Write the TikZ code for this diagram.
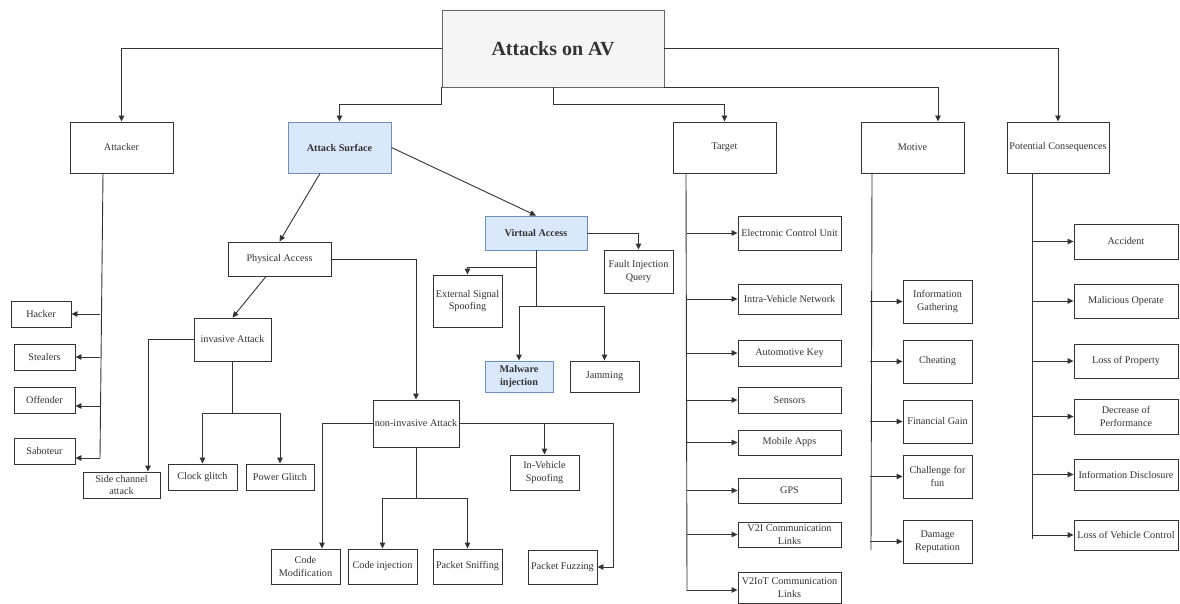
\documentclass[tikz,border=0pt]{standalone}
\usepackage{fontspec}
\setmainfont{Liberation Serif}
\usetikzlibrary{arrows.meta,calc}
\definecolor{ln}{HTML}{333333}
\definecolor{bluefill}{HTML}{DAE8FC}
\definecolor{blueline}{HTML}{6C8EBF}
\definecolor{titlefill}{HTML}{F5F5F5}
\definecolor{titleline}{HTML}{666666}
\definecolor{txt}{HTML}{333333}
\begin{document}
\begin{tikzpicture}[x=1pt,y=-1pt,
  sz/.style 2 args={minimum width=#1pt,minimum height=#2pt},
  bx/.style={draw=ln, line width=0.9pt, fill=white, align=center, inner xsep=0.5pt, inner ysep=0pt, text=txt, font=\fontsize{10.2}{12.5}\selectfont},
  hl/.style={bx, fill=bluefill, draw=blueline, font=\fontsize{10.2}{12.5}\selectfont\bfseries},
  wire/.style={draw=ln, line width=0.9pt},
  arr/.style={wire, -{Triangle[length=6pt,width=5.5pt]}},
]
\useasboundingbox (0,0) rectangle (1180,604);

% top level
\node[draw=titleline, fill=titlefill, line width=0.9pt, sz={222}{77}, text=txt, font=\fontsize{20}{24}\selectfont\bfseries] (title) at (553,48.5) {Attacks on AV};
\node[bx, sz={103}{51}] (attacker) at (121.5,147.5) {Attacker};
\node[hl, sz={103}{51}] (surface) at (339.5,147.5) {Attack Surface};
\node[bx, sz={103}{51}] (target) at (724.5,147.5) {Target};
\node[bx, sz={103}{51}] (motive) at (912.5,147.5) {Motive};
\node[bx, sz={102}{51}] (conseq) at (1058,147.5) {Potential Consequences};

% attacker children
\node[bx, sz={60}{26}] (hacker) at (41,314) {Hacker};
\node[bx, sz={61}{26}] (stealers) at (44.5,357) {Stealers};
\node[bx, sz={61}{26}] (offender) at (44.5,400) {Offender};
\node[bx, sz={61}{26}] (saboteur) at (44.5,451) {Saboteur};

% attack surface subtree
\node[bx, sz={103}{34}] (physical) at (279.5,259) {Physical Access};
\node[bx, sz={77}{43}] (invasive) at (232.5,339.5) {invasive Attack};
\node[bx, sz={77}{26}] (side) at (121.5,485) {Side channel\\attack};
\node[bx, sz={69}{26}] (clock) at (202.5,477) {Clock glitch};
\node[bx, sz={68}{26}] (power) at (280,477) {Power Glitch};
\node[bx, sz={86}{47}, inner xsep=0pt] (noninv) at (416,423.5) {non-invasive Attack};
\node[bx, sz={69}{35}] (codemod) at (305.5,566.5) {Code\\Modification};
\node[bx, sz={69}{35}] (codeinj) at (382.5,566.5) {Code injection};
\node[bx, sz={69}{35}] (sniff) at (467.5,566.5) {Packet Sniffing};
\node[bx, sz={69}{35}] (invspoof) at (544.5,472.5) {In-Vehicle\\Spoofing};
\node[bx, sz={69}{34}] (fuzz) at (562.5,567) {Packet Fuzzing};

\node[hl, sz={102}{34}] (virtual) at (536,233) {Virtual Access};
\node[bx, sz={69}{43}] (fault) at (638.5,271.5) {Fault Injection\\Query};
\node[bx, sz={69}{52}] (ext) at (467.5,301) {External Signal\\Spoofing};
\node[hl, sz={68}{31}] (malware) at (519,376.5) {Malware\\injection};
\node[bx, sz={69}{31}] (jamming) at (604.5,376.5) {Jamming};

% target children
\node[bx, sz={103}{34}] (ecu) at (789.5,233) {Electronic Control Unit};
\node[bx, sz={103}{30}] (ivn) at (789.5,299) {Intra-Vehicle Network};
\node[bx, sz={103}{26}] (key) at (789.5,353) {Automotive Key};
\node[bx, sz={103}{26}] (sensors) at (789.5,400) {Sensors};
\node[bx, sz={103}{25}] (apps) at (789.5,442.5) {Mobile Apps};
\node[bx, sz={103}{25}] (gps) at (789.5,490.5) {GPS};
\node[bx, sz={103}{25}] (v2i) at (789.5,534.5) {V2I Communication\\Links};
\node[bx, sz={103}{31}] (v2iot) at (789.5,587.5) {V2IoT Communication\\Links};

% motive children
\node[bx, sz={69}{43}] (info) at (937.5,301.5) {Information\\Gathering};
\node[bx, sz={69}{43}] (cheat) at (937.5,361.5) {Cheating};
\node[bx, sz={69}{43}] (fin) at (937.5,421.5) {Financial Gain};
\node[bx, sz={69}{43}] (chal) at (937.5,476.5) {Challenge for\\fun};
\node[bx, sz={69}{43}] (dmg) at (937.5,541.5) {Damage\\Reputation};

% consequence children
\node[bx, sz={104}{35}] (acc) at (1126,241.5) {Accident};
\node[bx, sz={104}{34}] (malop) at (1126,301) {Malicious Operate};
\node[bx, sz={104}{34}] (lop) at (1126,361) {Loss of Property};
\node[bx, sz={104}{35}] (dec) at (1126,416.5) {Decrease of\\Performance};
\node[bx, sz={104}{31}] (disc) at (1126,474.5) {Information Disclosure};
\node[bx, sz={104}{30}] (lvc) at (1126,535) {Loss of Vehicle Control};

% spine end points
\coordinate (aend) at (100,458);
\coordinate (tend) at (687,591);
\coordinate (mend) at (871,550);
\coordinate (cend) at (1032,539);

% title connectors
\draw[arr] (title.west) -| (attacker.north);
\draw[arr] (title.east) -| (conseq.north);
\draw[arr] (title.south west) -- ++(0,17) -| (surface.north);
\draw[arr] (title.south) -- ++(0,17) -| (target.north);
\draw[arr] (title.south east) -| ($(motive.north)+(25.5,0)$);

% attacker spine
\draw[wire] ($(attacker.south)+(-18.5,0)$) -- (aend);
\draw[arr] (hacker.east -| aend) -- (hacker.east);
\draw[arr] (stealers.east -| aend) -- (stealers.east);
\draw[arr] ([yshift=-6pt]offender.east -| aend) -- ([yshift=-6pt]offender.east);
\draw[arr] ([yshift=-7pt]saboteur.east -| aend) -- ([yshift=-7pt]saboteur.east);

% attack surface
\draw[arr] ($(surface.south)+(-19.5,0)$) -- (physical.north);
\draw[arr] (surface.east) -- (virtual.north);
\draw[arr] ($(physical.south)+(-13.5,0)$) -- (invasive.north);
\draw[arr] (physical.east) -| (noninv.north);
\draw[arr] (invasive.west) -| ($(side.north)+(26.5,0)$);
\draw[arr] (invasive.south) -- ++(0,52) -| (clock.north);
\draw[arr] (invasive.south) -- ++(0,52) -| (power.north);
\draw[arr] (noninv.west) -| ($(codemod.north)+(16.5,0)$);
\draw[arr] (noninv.south) -- ++(0,51) -| (codeinj.north);
\draw[arr] (noninv.south) -- ++(0,51) -| (sniff.north);
\draw[arr] (noninv.east) -| (invspoof.north);
\draw[arr] (noninv.east) -- ++(154,0) |- (fuzz.east);
\draw[arr] (virtual.east) -| (fault.north);
\draw[arr] (virtual.south) -- ++(0,17) -| (ext.north);
\draw[arr] (virtual.south) -- ++(0,56) -| (malware.north);
\draw[arr] (virtual.south) -- ++(0,56) -| (jamming.north);

% target spine
\draw[wire] ($(target.south)+(-38.5,0)$) -- (tend);
\foreach \n in {ecu,ivn,key,sensors,apps,gps,v2i}
  \draw[arr] (\n.west -| tend) -- (\n.west);
\draw[arr] ([yshift=-2.5pt]v2iot.west -| tend) -- ([yshift=-2.5pt]v2iot.west);

% motive spine
\draw[wire] ($(motive.south)+(-40.5,0)$) -- (mend);
\foreach \n in {info,cheat,fin,chal,dmg}
  \draw[arr] ([xshift=-1pt]\n.west -| mend) -- (\n.west);

% consequence spine
\draw[wire] ($(conseq.south)+(-26,0)$) -- (cend);
\foreach \n in {acc,malop,lop,dec,disc,lvc}
  \draw[arr] (\n.west -| cend) -- (\n.west);
\end{tikzpicture}
\end{document}
